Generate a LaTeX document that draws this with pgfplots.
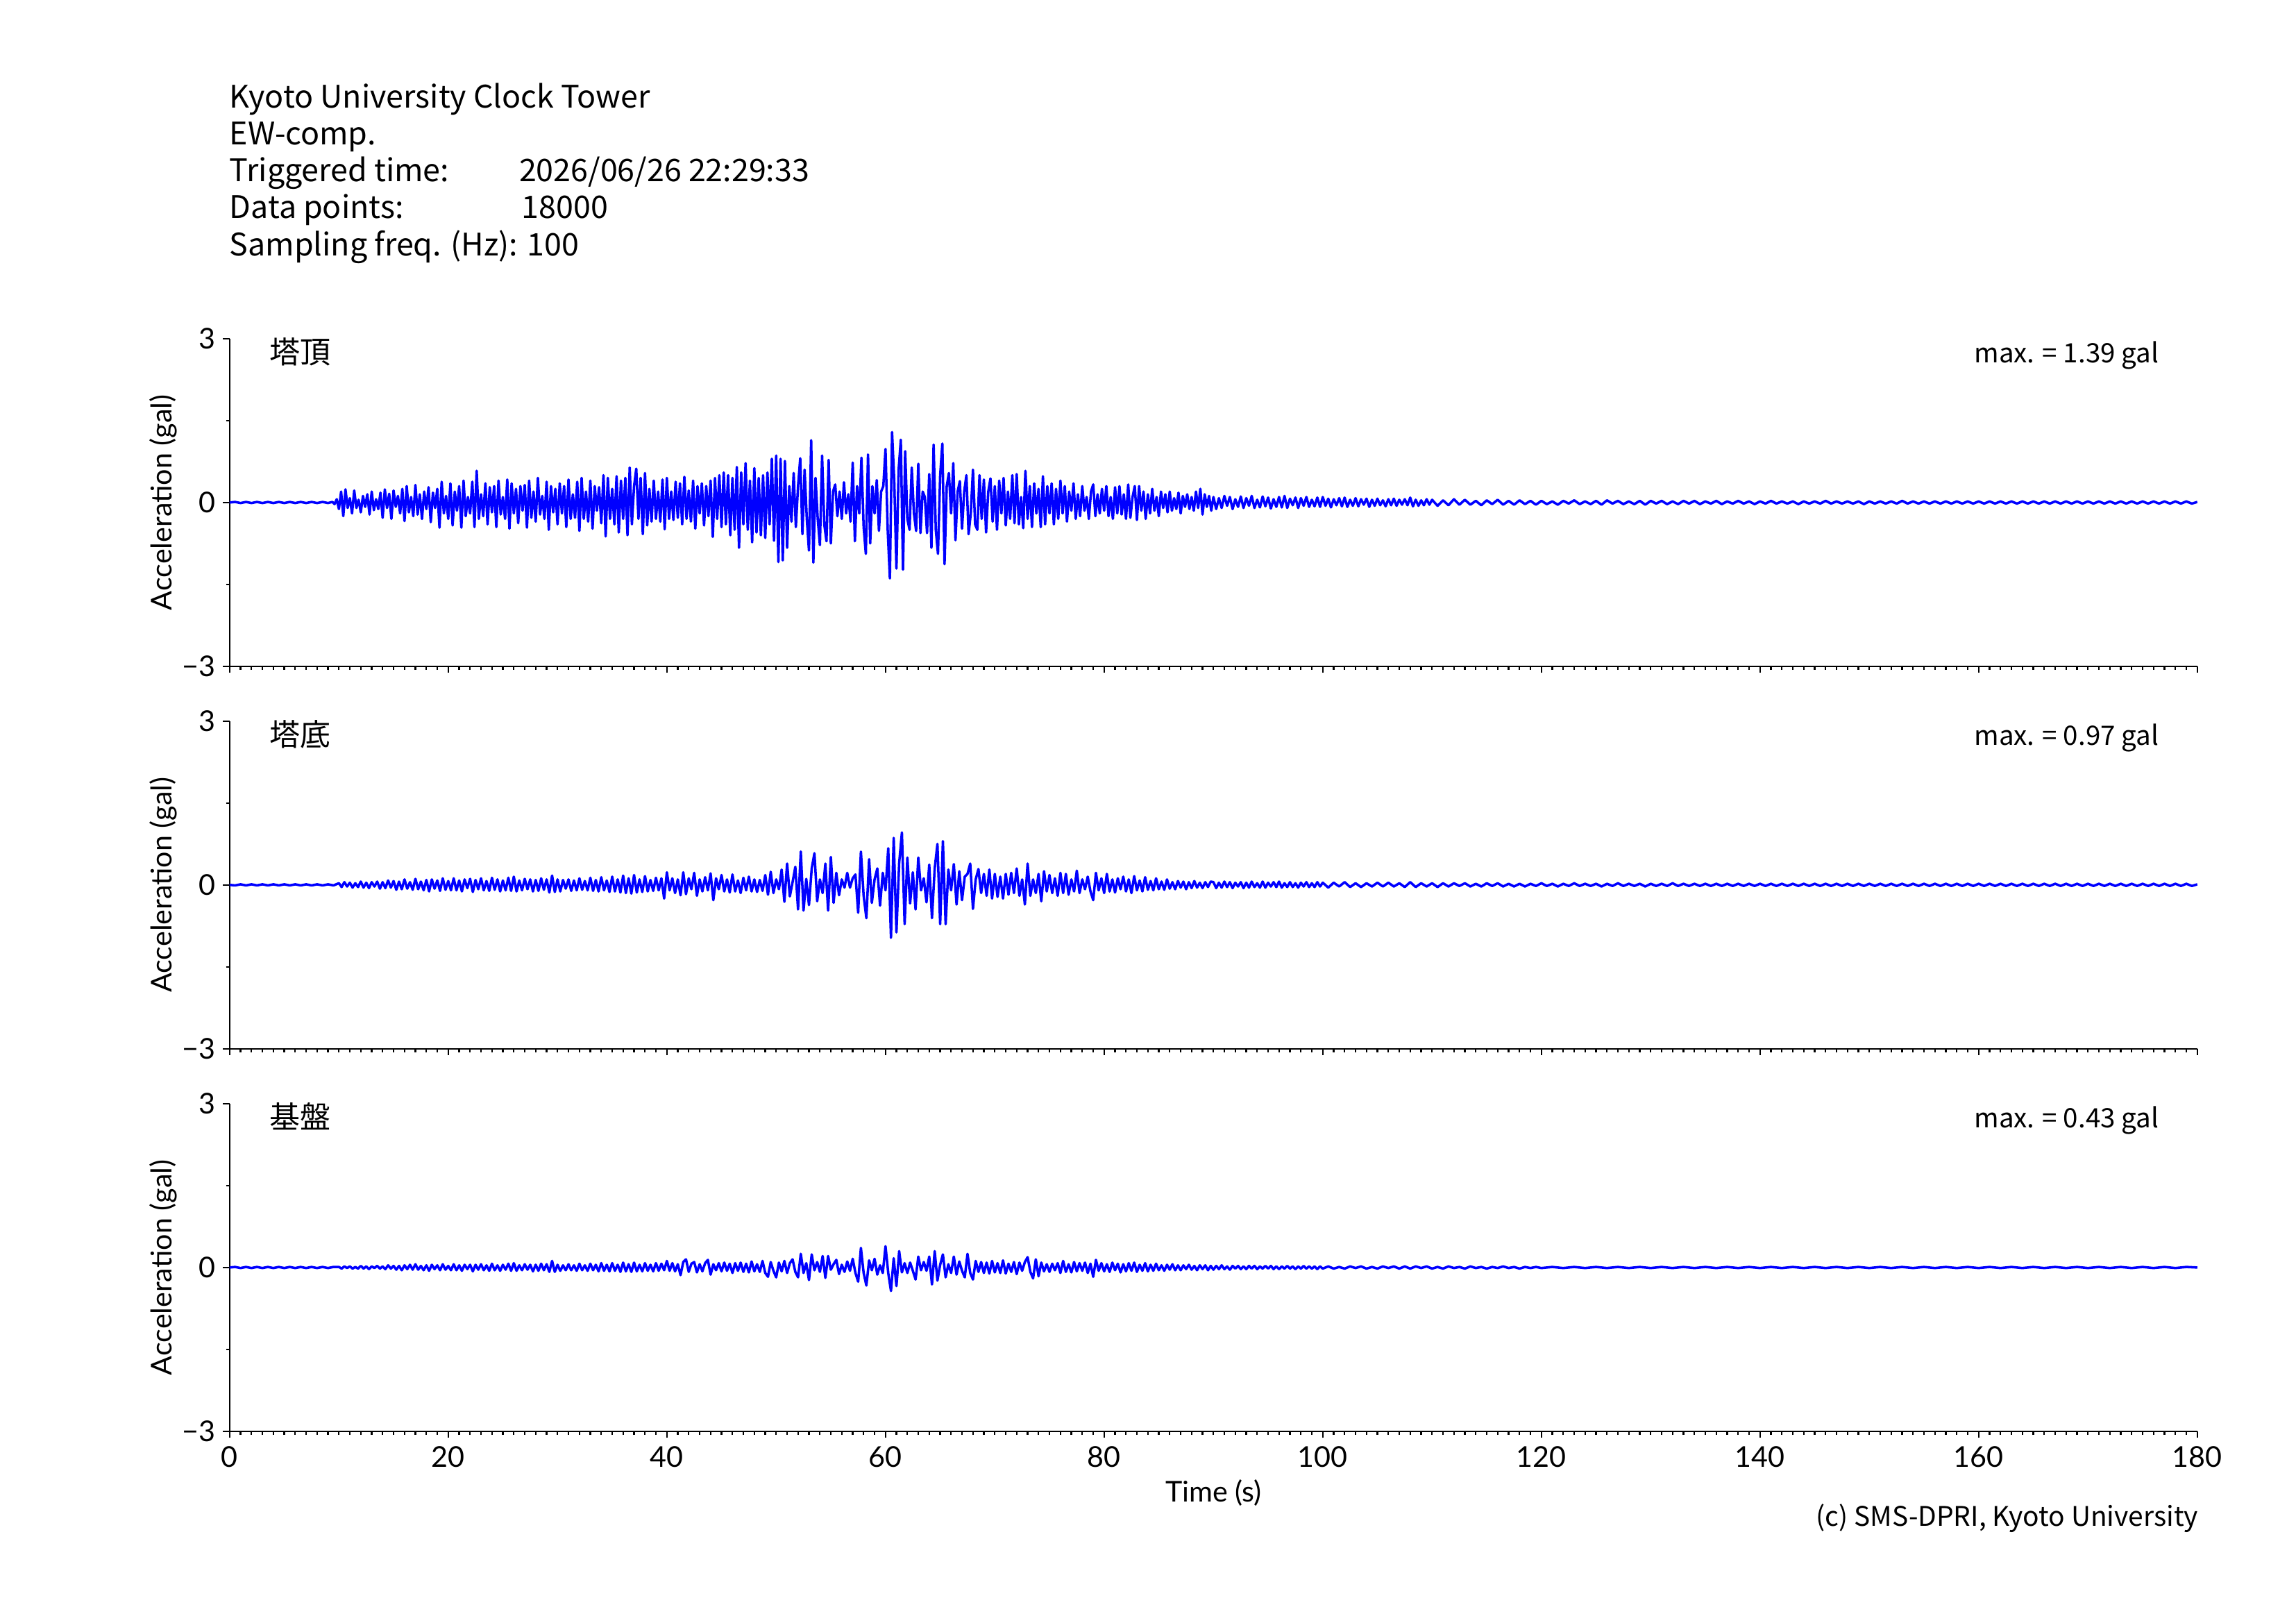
\documentclass[border=0pt]{standalone}
\usepackage{fontspec}
\setmainfont{Noto Sans CJK JP}
\newfontfamily\lato{Lato}
\usepackage{pgfplots}
\pgfplotsset{compat=1.18}
\definecolor{wave}{RGB}{0,0,255}
\pgfplotsset{
  panel/.style={
    scale only axis, width=721.6pt, height=120.1pt,
    anchor=south west,
    xmin=0, xmax=180, ymin=-3, ymax=3,
    axis x line*=bottom, axis y line*=left,
    x axis line style={-}, y axis line style={-},
    axis line style={line width=0.55pt, black},
    xtick={0,20,...,180}, minor x tick num=19,
    ytick={-3,0,3}, yticklabels={−3,0,3}, minor ytick={-1.5,1.5},
    tick align=outside,
    major tick length=2.4pt, minor tick length=1.35pt,
    tick style={black, line width=0.55pt},
    tick label style={font=\lato\fontsize{10.5}{12}\selectfont},
    /pgf/number format/assume math mode=true,
    yticklabel style={anchor=east, inner sep=0pt, xshift=-2.7pt},
    xticklabel style={anchor=north, inner sep=0pt, yshift=-2.9pt},
    ylabel={Acceleration (gal)},
    ylabel style={font=\lato\fontsize{10.5}{12}\selectfont, at={(axis description cs:-0.0338,0.5)}, anchor=center},
  },
  wv/.style={wave, line width=0.9pt, line join=round, mark=none},
}
\begin{document}
\begin{tikzpicture}
\path[use as bounding box] (0,0) rectangle (842pt,595pt);
% ---------------- panel 1 ----------------
\begin{axis}[panel, at={(84.2pt,350.7pt)}, xticklabels={}]
\addplot[wv] coordinates {
(0,0)(0.5,0.01)(1,-0.01)(1.5,0.01)(2,-0.01)(2.5,0.01)(3,-0.01)(3.5,0.01)(4,-0.01)(4.5,0.01)(5,-0.01)(5.5,0.01)(6,-0.01)(6.5,0.01)(7,-0.01)(7.5,0.01)(8,-0.01)(8.5,0.01)(9,-0.01)(9.4,0.01)(9.6,-0.03)(9.8,0.06)
(10,-0.12)(10.2,0.2)(10.4,-0.25)(10.6,0.24)(10.8,-0.1)
(11,0.08)(11.2,-0.2)(11.4,0.22)(11.6,-0.1)(11.8,0.05)
(12,-0.18)(12.2,0.12)(12.4,-0.08)(12.6,0.15)(12.8,-0.22)
(13,0.2)(13.2,-0.14)(13.4,0.06)(13.6,-0.12)(13.8,0.18)
(14,-0.28)(14.2,0.24)(14.4,-0.1)(14.6,0.16)(14.8,-0.3)
(15,0.22)(15.2,-0.08)(15.4,0.12)(15.6,-0.2)(15.8,0.25)
(16,-0.34)(16.2,0.3)(16.4,-0.18)(16.6,0.1)(16.8,-0.25)
(17,0.32)(17.2,-0.22)(17.4,0.15)(17.6,-0.3)(17.8,0.2)
(18,-0.12)(18.2,0.28)(18.4,-0.36)(18.6,0.18)(18.8,-0.1)
(19,0.25)(19.2,-0.46)(19.4,0.38)(19.6,-0.2)(19.8,0.12)
(20,-0.3)(20.2,0.35)(20.4,-0.42)(20.6,0.2)(20.8,-0.15)
(21,0.3)(21.2,-0.46)(21.4,0.4)(21.6,-0.25)(21.8,0.1)
(22,-0.2)(22.2,0.38)(22.4,-0.45)(22.6,0.58)(22.8,-0.3)
(23,0.15)(23.2,-0.25)(23.4,0.35)(23.6,-0.4)(23.8,0.28)
(24,-0.18)(24.2,0.3)(24.4,-0.45)(24.6,0.4)(24.8,-0.22)
(25,0.1)(25.2,-0.3)(25.4,0.42)(25.6,-0.48)(25.8,0.35)
(26,-0.2)(26.2,0.25)(26.4,-0.38)(26.6,0.3)(26.8,-0.15)
(27,0.32)(27.2,-0.46)(27.4,0.4)(27.6,-0.28)(27.8,0.2)
(28,-0.35)(28.2,0.45)(28.4,-0.22)(28.6,0.12)(28.8,-0.3)
(29,0.38)(29.2,-0.5)(29.4,0.3)(29.6,-0.18)(29.8,0.25)
(30,-0.4)(30.2,0.35)(30.4,-0.2)(30.6,0.3)(30.8,-0.45)
(31,0.42)(31.2,-0.3)(31.4,0.15)(31.6,-0.28)(31.8,0.38)
(32,-0.52)(32.2,0.45)(32.4,-0.3)(32.6,0.2)(32.8,-0.35)
(33,0.4)(33.2,-0.48)(33.4,0.3)(33.6,-0.15)(33.8,0.28)
(34,-0.38)(34.2,0.5)(34.4,-0.62)(34.6,0.45)(34.8,-0.3)
(35,0.25)(35.2,-0.4)(35.4,0.48)(35.6,-0.55)(35.8,0.4)
(36,-0.3)(36.2,0.45)(36.4,-0.6)(36.6,0.64)(36.8,-0.4)
(37,0.3)(37.2,0.62)(37.4,-0.3)(37.6,0.45)(37.8,-0.58)
(38,0.54)(38.2,-0.42)(38.4,0.25)(38.6,-0.35)(38.8,0.4)
(39,-0.3)(39.2,0.2)(39.4,-0.35)(39.6,0.42)(39.8,-0.49)
(40,0.45)(40.2,-0.3)(40.4,0.2)(40.6,-0.32)(40.8,0.38)
(41,-0.28)(41.2,0.35)(41.4,-0.4)(41.6,0.47)(41.8,-0.3)
(42,0.22)(42.2,-0.35)(42.4,0.4)(42.6,-0.48)(42.8,0.3)
(43,-0.2)(43.2,0.35)(43.4,-0.42)(43.6,0.3)(43.8,-0.25)
(44,0.4)(44.2,-0.63)(44.4,0.45)(44.6,-0.3)(44.8,0.5)
(45,-0.45)(45.2,0.55)(45.4,-0.4)(45.6,0.5)(45.8,-0.6)
(46,0.45)(46.2,-0.5)(46.4,0.65)(46.6,-0.83)(46.8,0.55)
(47,-0.4)(47.2,0.72)(47.4,-0.5)(47.6,0.4)(47.8,-0.73)
(48,0.63)(48.2,-0.55)(48.4,0.45)(48.6,-0.6)(48.8,0.5)
(49,-0.65)(49.2,0.55)(49.4,-0.4)(49.6,0.8)(49.8,-0.7)
(50,0.86)(50.2,-1.09)(50.4,0.8)(50.6,-1.06)(50.8,0.76)
(51,-0.83)(51.2,0.3)(51.4,-0.35)(51.6,0.54)(51.8,-0.45)
(52,0.3)(52.2,0.81)(52.4,-0.58)(52.6,0.6)(52.8,-0.3)
(53,-0.88)(53.2,1.14)(53.4,-1.1)(53.6,0.45)(53.8,-0.3)
(54,-0.78)(54.2,0.86)(54.4,-0.4)(54.6,-0.71)(54.8,0.78)
(55,-0.75)(55.2,0.2)(55.4,0.33)(55.6,-0.25)(55.8,0.2)
(56,-0.3)(56.2,0.37)(56.4,-0.2)(56.6,0.15)(56.8,-0.35)
(57,0.73)(57.2,-0.71)(57.4,0.3)(57.6,-0.2)(57.8,0.82)
(58,-0.45)(58.2,-0.94)(58.4,0.88)(58.6,-0.75)(58.8,0.3)
(59,-0.2)(59.2,0.41)(59.4,-0.52)(59.6,0.2)(59.8,0.3)
(60,0.98)(60.2,-0.5)(60.4,-1.39)(60.6,1.29)(60.8,0.4)
(61,-1.21)(61.2,0.6)(61.4,1.15)(61.6,-1.23)(61.8,0.94)
(62,-0.3)(62.2,-0.5)(62.4,0.64)(62.6,-0.2)(62.8,-0.52)
(63,0.71)(63.2,-0.56)(63.4,0.2)(63.6,0.1)(63.8,-0.56)
(64,0.52)(64.2,-0.83)(64.4,1.06)(64.6,-0.5)(64.8,-0.94)
(65,0.5)(65.2,1.08)(65.4,-1.13)(65.6,0.3)(65.8,0.54)
(66,-0.2)(66.2,0.72)(66.4,-0.69)(66.6,0.2)(66.8,0.39)
(67,-0.48)(67.2,0.2)(67.4,0.5)(67.6,-0.58)(67.8,-0.2)
(68,0.6)(68.2,-0.4)(68.4,-0.5)(68.6,0.5)(68.8,-0.3)
(69,0.42)(69.2,-0.55)(69.4,0.2)(69.6,0.44)(69.8,-0.35)
(70,0.3)(70.2,-0.5)(70.4,0.4)(70.6,-0.2)(70.8,0.45)
(71,-0.42)(71.2,0.2)(71.4,-0.3)(71.6,0.5)(71.8,-0.38)
(72,0.52)(72.2,-0.4)(72.4,0.1)(72.6,-0.47)(72.8,0.58)
(73,-0.3)(73.2,0.3)(73.4,-0.45)(73.6,0.35)(73.8,-0.2)
(74,0.25)(74.2,-0.45)(74.4,0.48)(74.6,-0.4)(74.8,0.3)
(75,-0.2)(75.2,0.35)(75.4,-0.4)(75.6,0.25)(75.8,-0.3)
(76,0.4)(76.2,-0.2)(76.4,0.3)(76.6,-0.35)(76.8,0.2)
(77,-0.15)(77.2,0.35)(77.4,-0.3)(77.6,0.15)(77.8,-0.25)
(78,0.3)(78.2,-0.15)(78.4,0.1)(78.6,-0.3)(78.8,0.2)
(79,0.33)(79.2,-0.25)(79.4,0.15)(79.6,-0.2)(79.8,0.25)
(80,-0.15)(80.2,0.3)(80.4,-0.25)(80.6,0.1)(80.8,-0.3)
(81,0.28)(81.2,-0.2)(81.4,0.3)(81.6,-0.22)(81.8,0.15)
(82,-0.3)(82.2,0.33)(82.4,-0.28)(82.6,0.1)(82.8,0.3)
(83,-0.32)(83.2,0.3)(83.4,-0.15)(83.6,0.2)(83.8,-0.3)
(84,0.15)(84.2,-0.2)(84.4,0.25)(84.6,-0.15)(84.8,0.1)
(85,-0.25)(85.2,0.2)(85.4,-0.1)(85.6,0.15)(85.8,-0.18)
(86,0.2)(86.2,-0.15)(86.4,0.08)(86.6,-0.12)(86.8,0.18)
(87,-0.2)(87.2,0.12)(87.4,-0.08)(87.6,0.15)(87.8,-0.12)
(88,0.1)(88.2,-0.15)(88.4,0.2)(88.6,-0.1)(88.8,0.25)
(89,-0.22)(89.2,0.15)(89.4,-0.08)(89.6,0.12)(89.8,-0.15)
(90,0.1)(90.25,-0.12)(90.5,0.08)(90.75,-0.1)(91,0.12)(91.25,-0.06)(91.5,0.1)(91.75,-0.12)
(92,0.06)(92.25,-0.08)(92.5,0.11)(92.75,-0.1)(93,0.08)(93.25,-0.06)(93.5,0.12)(93.75,-0.1)
(94,0.05)(94.25,-0.09)(94.5,0.11)(94.75,-0.07)(95,0.09)(95.25,-0.11)(95.5,0.06)(95.75,-0.08)
(96,0.1)(96.25,-0.09)(96.5,0.12)(96.75,-0.1)(97,0.07)(97.25,-0.05)(97.5,0.09)(97.75,-0.1)
(98,0.08)(98.25,-0.06)(98.5,0.1)(98.75,-0.08)(99,0.05)(99.25,-0.07)(99.5,0.09)(99.75,-0.08)
(100,0.1)(100.25,-0.06)(100.5,0.07)(100.75,-0.09)(101,0.06)(101.25,-0.05)(101.5,0.08)(101.75,-0.07)
(102,0.09)(102.25,-0.08)(102.5,0.05)(102.75,-0.06)(103,0.08)(103.25,-0.07)(103.5,0.06)(103.75,-0.04)
(104,0.07)(104.25,-0.08)(104.5,0.05)(104.75,-0.06)(105,0.07)(105.25,-0.05)(105.5,0.04)(105.75,-0.07)
(106,0.06)(106.25,-0.05)(106.5,0.07)(106.75,-0.06)(107,0.05)(107.25,-0.04)(107.5,0.06)(107.75,-0.05)
(108,0.09)(108.25,-0.07)(108.5,0.05)(108.75,-0.06)(109,0.04)(109.25,-0.05)(109.5,0.06)(109.75,-0.04)
(110,0.05)(110.5,-0.06)(111,0.04)(111.5,-0.05)(112,0.06)(112.5,-0.04)(113,0.05)(113.5,-0.04)(114,0.03)(114.5,-0.05)
(115,0.04)(115.5,-0.03)(116,0.05)(116.5,-0.04)(117,0.03)(117.5,-0.04)(118,0.04)(118.5,-0.03)(119,0.03)(119.5,-0.04)
(120,0.03)(120.5,-0.03)(121,0.02)(121.5,-0.04)(122,0.03)(122.5,-0.02)(123,0.04)(123.5,-0.03)(124,0.02)(124.5,-0.03)
(125,0.03)(125.5,-0.04)(126,0.04)(126.5,-0.02)(127,0.03)(127.5,-0.03)(128,0.02)(128.5,-0.03)(129,0.03)(129.5,-0.04)
(130,0.03)(130.5,-0.02)(131,0.03)(131.5,-0.03)(132,0.02)(132.5,-0.03)(133,0.03)(133.5,-0.02)(134,0.03)(134.5,-0.03)
(135,0.02)(135.5,-0.02)(136,0.03)(136.5,-0.03)(137,0.02)(137.5,-0.02)(138,0.03)(138.5,-0.02)(139,0.02)(139.5,-0.03)
(140,0.02)(140.5,-0.02)(141,0.03)(141.5,-0.02)(142,0.02)(142.5,-0.02)(143,0.02)(143.5,-0.03)(144,0.02)(144.5,-0.02)
(145,0.02)(145.5,-0.02)(146,0.03)(146.5,-0.02)(147,0.02)(147.5,-0.02)(148,0.02)(148.5,-0.02)(149,0.02)(149.5,-0.03)
(150,0.02)(150.5,-0.02)(151,0.02)(151.5,-0.02)(152,0.02)(152.5,-0.02)(153,0.03)(153.5,-0.02)(154,0.02)(154.5,-0.02)
(155,0.02)(155.5,-0.02)(156,0.02)(156.5,-0.02)(157,0.02)(157.5,-0.02)(158,0.02)(158.5,-0.02)(159,0.02)(159.5,-0.02)
(160,0.02)(160.5,-0.02)(161,0.02)(161.5,-0.02)(162,0.02)(162.5,-0.02)(163,0.02)(163.5,-0.02)(164,0.02)(164.5,-0.02)
(165,0.02)(165.5,-0.02)(166,0.02)(166.5,-0.02)(167,0.02)(167.5,-0.02)(168,0.02)(168.5,-0.02)(169,0.02)(169.5,-0.02)
(170,0.02)(170.5,-0.02)(171,0.02)(171.5,-0.02)(172,0.02)(172.5,-0.02)(173,0.02)(173.5,-0.02)(174,0.02)(174.5,-0.02)
(175,0.02)(175.5,-0.02)(176,0.02)(176.5,-0.02)(177,0.02)(177.5,-0.02)(178,0.02)(178.5,-0.02)(179,0.02)(179.5,-0.02)(180,0.01)
};
\end{axis}
% ---------------- panel 2 ----------------
\begin{axis}[panel, at={(84.2pt,210.5pt)}, xticklabels={}]
\addplot[wv] coordinates {
(0,0)(0.5,-0.01)(1,0.01)(1.5,-0.01)(2,0.01)(2.5,-0.01)(3,0.01)(3.5,-0.01)(4,0.01)(4.5,-0.01)(5,0.01)(5.5,-0.01)(6,0.01)(6.5,-0.01)(7,0.01)(7.5,-0.01)(8,0.01)(8.5,-0.01)(9,0.01)(9.5,-0.01)
(10,0.03)(10.25,-0.04)(10.5,0.05)(10.75,-0.03)(11,0.04)(11.25,-0.05)(11.5,0.03)(11.75,-0.04)
(12,0.06)(12.25,-0.05)(12.5,0.04)(12.75,-0.06)(13,0.05)(13.25,-0.03)(13.5,0.06)(13.75,-0.07)
(14,0.05)(14.25,-0.06)(14.5,0.08)(14.75,-0.05)(15,0.07)(15.25,-0.09)(15.5,0.06)(15.75,-0.08)
(16,0.1)(16.25,-0.07)(16.5,0.05)(16.75,-0.09)(17,0.11)(17.25,-0.08)(17.5,0.06)(17.75,-0.1)
(18,0.09)(18.25,-0.12)(18.5,0.1)(18.75,-0.07)(19,0.08)(19.25,-0.11)(19.5,0.12)(19.75,-0.09)
(20,0.07)(20.25,-0.1)(20.5,0.12)(20.75,-0.1)(21,0.08)(21.25,-0.12)(21.5,0.1)(21.75,-0.06)
(22,0.11)(22.25,-0.13)(22.5,0.09)(22.75,-0.08)(23,0.12)(23.25,-0.1)(23.5,0.07)(23.75,-0.11)
(24,0.13)(24.25,-0.09)(24.5,0.1)(24.75,-0.12)(25,0.08)(25.25,-0.1)(25.5,0.13)(25.75,-0.11)
(26,0.15)(26.25,-0.12)(26.5,0.08)(26.75,-0.1)(27,0.11)(27.25,-0.08)(27.5,0.1)(27.75,-0.12)
(28,0.09)(28.25,-0.11)(28.5,0.12)(28.75,-0.09)(29,0.1)(29.25,-0.14)(29.5,0.17)(29.75,-0.13)
(30,0.1)(30.25,-0.12)(30.5,0.09)(30.75,-0.07)(31,0.1)(31.25,-0.11)(31.5,0.08)(31.75,-0.1)
(32,0.12)(32.25,-0.09)(32.5,0.07)(32.75,-0.1)(33,0.13)(33.25,-0.11)(33.5,0.09)(33.75,-0.12)
(34,0.14)(34.25,-0.1)(34.5,0.08)(34.75,-0.13)(35,0.15)(35.25,-0.12)(35.5,0.1)(35.75,-0.14)
(36,0.17)(36.25,-0.15)(36.5,0.12)(36.75,-0.16)(37,0.18)(37.25,-0.14)(37.5,0.1)(37.75,-0.13)
(38,0.16)(38.25,-0.12)(38.5,0.09)(38.75,-0.11)(39,0.13)(39.25,-0.1)(39.5,0.12)(39.75,-0.25)
(40,0.23)(40.25,-0.1)(40.5,0.12)(40.75,-0.15)(41,0.1)(41.25,-0.19)(41.5,0.23)(41.75,-0.17)
(42,0.12)(42.25,-0.08)(42.5,0.22)(42.75,-0.2)(43,0.1)(43.25,-0.12)(43.5,0.14)(43.75,-0.1)
(44,0.21)(44.25,-0.28)(44.5,0.12)(44.75,-0.08)(45,0.18)(45.25,-0.12)(45.5,0.1)(45.75,-0.14)
(46,0.19)(46.25,-0.12)(46.5,0.08)(46.75,-0.15)(47,0.13)(47.25,-0.1)(47.5,0.15)(47.75,-0.12)
(48,0.1)(48.25,-0.13)(48.5,0.09)(48.75,-0.11)(49,0.18)(49.25,-0.18)(49.5,0.24)(49.75,-0.15)
(50,0.1)(50.25,-0.08)(50.5,0.28)(50.75,-0.31)(51,0.39)(51.25,-0.21)(51.5,0.05)(51.75,0.33)
(52,-0.45)(52.25,0.61)(52.5,-0.47)(52.75,0.11)(53,-0.37)(53.25,0.3)(53.5,0.58)(53.75,-0.3)
(54,0.1)(54.25,-0.15)(54.5,0.39)(54.75,-0.47)(55,0.51)(55.25,-0.33)(55.5,0.22)(55.75,-0.19)
(56,0.1)(56.25,-0.05)(56.5,0.22)(56.75,-0.05)(57,0.12)(57.25,0.19)(57.5,-0.51)(57.75,0.61)
(58,-0.2)(58.25,-0.61)(58.5,0.47)(58.75,-0.33)(59,0.1)(59.25,0.3)(59.5,-0.38)(59.75,0.22)
(60,-0.1)(60.25,0.67)(60.5,-0.97)(60.75,0.86)(61,-0.87)(61.25,0.4)(61.5,0.96)(61.75,-0.72)
(62,0.5)(62.25,-0.34)(62.5,0.23)(62.75,-0.45)(63,0.5)(63.25,-0.1)(63.5,0.12)(63.75,-0.32)
(64,0.37)(64.25,-0.61)(64.5,0.3)(64.75,0.75)(65,-0.72)(65.25,0.8)(65.5,-0.72)(65.75,0.28)
(66,-0.1)(66.25,0.38)(66.5,-0.36)(66.75,0.25)(67,-0.28)(67.25,0.15)(67.5,0.2)(67.75,0.39)
(68,-0.44)(68.25,0.1)(68.5,0.29)(68.75,-0.15)(69,0.2)(69.25,-0.2)(69.5,0.28)(69.75,-0.25)
(70,0.2)(70.25,-0.22)(70.5,0.15)(70.75,-0.25)(71,0.2)(71.25,-0.18)(71.5,0.22)(71.75,-0.15)
(72,0.3)(72.25,-0.2)(72.5,0.1)(72.75,-0.36)(73,0.39)(73.25,-0.2)(73.5,0.1)(73.75,-0.15)
(74,0.2)(74.25,-0.3)(74.5,0.25)(74.75,-0.12)(75,0.18)(75.25,-0.15)(75.5,0.12)(75.75,-0.2)
(76,0.22)(76.25,-0.15)(76.5,0.2)(76.75,-0.18)(77,0.1)(77.25,-0.12)(77.5,0.26)(77.75,-0.15)
(78,0.1)(78.25,-0.08)(78.5,0.15)(78.75,-0.12)(79,-0.28)(79.25,0.22)(79.5,-0.1)(79.75,0.12)
(80,-0.15)(80.25,0.2)(80.5,-0.12)(80.75,0.1)(81,-0.14)(81.25,0.12)(81.5,-0.08)(81.75,0.15)
(82,-0.12)(82.25,0.1)(82.5,-0.15)(82.75,0.16)(83,-0.1)(83.25,0.08)(83.5,-0.12)(83.75,0.14)
(84,-0.09)(84.25,0.07)(84.5,-0.1)(84.75,0.12)(85,-0.08)(85.25,0.06)(85.5,-0.09)(85.75,0.1)
(86,-0.07)(86.25,0.05)(86.5,-0.08)(86.75,0.07)(87,-0.05)(87.25,0.06)(87.5,-0.08)(87.75,0.05)
(88,-0.06)(88.25,0.07)(88.5,-0.05)(88.75,0.04)(89,-0.06)(89.25,0.05)(89.5,-0.04)(89.75,0.06)
(90,0.05)(90.25,-0.06)(90.5,0.04)(90.75,-0.05)(91,0.06)(91.25,-0.04)(91.5,0.05)(91.75,-0.06)
(92,0.04)(92.25,-0.03)(92.5,0.05)(92.75,-0.06)(93,0.04)(93.25,-0.05)(93.5,0.06)(93.75,-0.04)
(94,0.03)(94.25,-0.05)(94.5,0.06)(94.75,-0.05)(95,0.04)(95.25,-0.03)(95.5,0.05)(95.75,-0.04)
(96,0.06)(96.25,-0.05)(96.5,0.03)(96.75,-0.04)(97,0.05)(97.25,-0.04)(97.5,0.03)(97.75,-0.05)
(98,0.04)(98.25,-0.03)(98.5,0.05)(98.75,-0.04)(99,0.03)(99.25,-0.04)(99.5,0.05)(99.75,-0.03)
(100,0.04)(100.5,-0.05)(101,0.04)(101.5,-0.03)(102,0.05)(102.5,-0.04)(103,0.03)(103.5,-0.04)(104,0.03)(104.5,-0.03)
(105,0.04)(105.5,-0.03)(106,0.04)(106.5,-0.03)(107,0.03)(107.5,-0.04)(108,0.05)(108.5,-0.04)(109,0.03)(109.5,-0.03)
(110,0.03)(110.5,-0.04)(111,0.03)(111.5,-0.03)(112,0.03)(112.5,-0.02)(113,0.03)(113.5,-0.03)(114,0.02)(114.5,-0.03)
(115,0.03)(115.5,-0.02)(116,0.03)(116.5,-0.03)(117,0.02)(117.5,-0.03)(118,0.02)(118.5,-0.03)(119,0.02)(119.5,-0.02)
(120,0.03)(120.5,-0.02)(121,0.02)(121.5,-0.03)(122,0.02)(122.5,-0.02)(123,0.03)(123.5,-0.02)(124,0.02)(124.5,-0.02)
(125,0.02)(125.5,-0.03)(126,0.02)(126.5,-0.02)(127,0.03)(127.5,-0.02)(128,0.02)(128.5,-0.02)(129,0.02)(129.5,-0.03)
(130,0.02)(130.5,-0.02)(131,0.02)(131.5,-0.02)(132,0.03)(132.5,-0.02)(133,0.02)(133.5,-0.02)(134,0.02)(134.5,-0.02)
(135,0.02)(135.5,-0.02)(136,0.02)(136.5,-0.02)(137,0.02)(137.5,-0.02)(138,0.02)(138.5,-0.02)(139,0.02)(139.5,-0.02)
(140,0.02)(140.5,-0.02)(141,0.02)(141.5,-0.02)(142,0.02)(142.5,-0.02)(143,0.02)(143.5,-0.02)(144,0.02)(144.5,-0.02)
(145,0.02)(145.5,-0.02)(146,0.02)(146.5,-0.02)(147,0.02)(147.5,-0.02)(148,0.02)(148.5,-0.02)(149,0.02)(149.5,-0.02)
(150,0.02)(150.5,-0.02)(151,0.02)(151.5,-0.02)(152,0.02)(152.5,-0.02)(153,0.02)(153.5,-0.02)(154,0.02)(154.5,-0.02)
(155,0.02)(155.5,-0.02)(156,0.02)(156.5,-0.02)(157,0.02)(157.5,-0.02)(158,0.02)(158.5,-0.02)(159,0.02)(159.5,-0.02)
(160,0.02)(160.5,-0.02)(161,0.02)(161.5,-0.02)(162,0.02)(162.5,-0.02)(163,0.02)(163.5,-0.02)(164,0.02)(164.5,-0.02)
(165,0.02)(165.5,-0.02)(166,0.02)(166.5,-0.02)(167,0.02)(167.5,-0.02)(168,0.02)(168.5,-0.02)(169,0.02)(169.5,-0.02)
(170,0.02)(170.5,-0.02)(171,0.02)(171.5,-0.02)(172,0.02)(172.5,-0.02)(173,0.02)(173.5,-0.02)(174,0.02)(174.5,-0.02)
(175,0.02)(175.5,-0.02)(176,0.02)(176.5,-0.02)(177,0.02)(177.5,-0.02)(178,0.02)(178.5,-0.02)(179,0.02)(179.5,-0.02)(180,0.01)
};
\end{axis}
% ---------------- panel 3 ----------------
\begin{axis}[panel, at={(84.2pt,70.2pt)},
  xlabel={Time (s)},
  xlabel style={font=\lato\fontsize{10.5}{12}\selectfont, at={(axis description cs:0.5,-0.2157)}, anchor=base}]
\addplot[wv] coordinates {
(0,0)(0.5,0.01)(1,-0.01)(1.5,0.01)(2,-0.01)(2.5,0.01)(3,-0.01)(3.5,0.01)(4,-0.01)(4.5,0.01)(5,-0.01)(5.5,0.01)(6,-0.01)(6.5,0.01)(7,-0.01)(7.5,0.01)(8,-0.01)(8.5,0.01)(9,-0.01)(9.5,0.01)
(10,0.01)(10.25,-0.02)(10.5,0.02)(10.75,-0.01)(11,0.02)(11.25,-0.02)(11.5,0.01)(11.75,-0.02)
(12,0.03)(12.25,-0.02)(12.5,0.02)(12.75,-0.03)(13,0.02)(13.25,-0.01)(13.5,0.03)(13.75,-0.02)
(14,0.02)(14.25,-0.03)(14.5,0.04)(14.75,-0.02)(15,0.03)(15.25,-0.04)(15.5,0.03)(15.75,-0.05)
(16,0.04)(16.25,-0.03)(16.5,0.05)(16.75,-0.04)(17,0.06)(17.25,-0.04)(17.5,0.03)(17.75,-0.05)
(18,0.04)(18.25,-0.06)(18.5,0.05)(18.75,-0.03)(19,0.04)(19.25,-0.05)(19.5,0.06)(19.75,-0.04)
(20,0.03)(20.25,-0.05)(20.5,0.06)(20.75,-0.05)(21,0.04)(21.25,-0.06)(21.5,0.05)(21.75,-0.03)
(22,0.05)(22.25,-0.07)(22.5,0.05)(22.75,-0.04)(23,0.06)(23.25,-0.05)(23.5,0.04)(23.75,-0.06)
(24,0.07)(24.25,-0.05)(24.5,0.04)(24.75,-0.06)(25,0.05)(25.25,-0.04)(25.5,0.07)(25.75,-0.06)
(26,0.08)(26.25,-0.06)(26.5,0.04)(26.75,-0.05)(27,0.06)(27.25,-0.04)(27.5,0.05)(27.75,-0.07)
(28,0.05)(28.25,-0.06)(28.5,0.07)(28.75,-0.05)(29,0.06)(29.25,-0.08)(29.5,0.12)(29.75,-0.08)
(30,0.05)(30.25,-0.06)(30.5,0.04)(30.75,-0.05)(31,0.06)(31.25,-0.05)(31.5,0.04)(31.75,-0.06)
(32,0.07)(32.25,-0.05)(32.5,0.04)(32.75,-0.06)(33,0.07)(33.25,-0.05)(33.5,0.05)(33.75,-0.07)
(34,0.08)(34.25,-0.06)(34.5,0.05)(34.75,-0.07)(35,0.08)(35.25,-0.06)(35.5,0.05)(35.75,-0.08)
(36,0.09)(36.25,-0.07)(36.5,0.06)(36.75,-0.08)(37,0.09)(37.25,-0.07)(37.5,0.05)(37.75,-0.07)
(38,0.08)(38.25,-0.06)(38.5,0.05)(38.75,-0.07)(39,0.08)(39.25,-0.06)(39.5,0.07)(39.75,-0.05)
(40,0.12)(40.25,-0.06)(40.5,0.08)(40.75,-0.07)(41,0.06)(41.25,-0.14)(41.5,0.1)(41.75,0.15)
(42,-0.08)(42.25,0.07)(42.5,0.1)(42.75,-0.09)(43,0.06)(43.25,-0.07)(43.5,0.08)(43.75,0.14)
(44,-0.13)(44.25,0.06)(44.5,-0.05)(44.75,0.08)(45,-0.07)(45.25,0.09)(45.5,-0.06)(45.75,0.07)
(46,-0.1)(46.25,0.08)(46.5,-0.06)(46.75,0.09)(47,-0.08)(47.25,0.07)(47.5,-0.09)(47.75,0.11)
(48,-0.07)(48.25,0.06)(48.5,-0.08)(48.75,0.12)(49,-0.1)(49.25,-0.17)(49.5,0.1)(49.75,-0.06)
(50,-0.18)(50.25,0.09)(50.5,-0.07)(50.75,0.12)(51,-0.1)(51.25,0.08)(51.5,0.15)(51.75,-0.08)
(52,-0.18)(52.25,0.25)(52.5,-0.1)(52.75,0.08)(53,-0.23)(53.25,0.24)(53.5,-0.05)(53.75,0.1)
(54,-0.08)(54.25,0.21)(54.5,-0.19)(54.75,0.21)(55,-0.04)(55.25,0.06)(55.5,0.14)(55.75,-0.12)
(56,0.05)(56.25,-0.08)(56.5,0.11)(56.75,-0.06)(57,0.16)(57.25,-0.1)(57.5,-0.26)(57.75,0.36)
(58,-0.1)(58.25,-0.33)(58.5,0.13)(58.75,-0.05)(59,0.16)(59.25,-0.13)(59.5,0.04)(59.75,-0.1)
(60,0.39)(60.25,-0.1)(60.5,-0.43)(60.75,0.17)(61,-0.34)(61.25,0.3)(61.5,-0.09)(61.75,0.08)
(62,-0.1)(62.25,0.09)(62.5,-0.06)(62.75,-0.22)(63,0.2)(63.25,-0.05)(63.5,0.1)(63.75,-0.06)
(64,0.2)(64.25,-0.31)(64.5,0.3)(64.75,-0.24)(65,0.05)(65.25,0.24)(65.5,-0.18)(65.75,0.06)
(66,-0.1)(66.25,0.2)(66.5,-0.13)(66.75,0.11)(67,-0.06)(67.25,-0.18)(67.5,0.25)(67.75,-0.1)
(68,-0.22)(68.25,0.12)(68.5,-0.08)(68.75,0.1)(69,-0.1)(69.25,0.09)(69.5,-0.11)(69.75,0.12)
(70,-0.09)(70.25,0.08)(70.5,-0.1)(70.75,0.13)(71,-0.11)(71.25,0.07)(71.5,-0.08)(71.75,0.1)
(72,-0.12)(72.25,0.09)(72.5,-0.06)(72.75,0.1)(73,0.19)(73.25,-0.08)(73.5,-0.2)(73.75,0.15)
(74,-0.16)(74.25,0.09)(74.5,-0.07)(74.75,0.06)(75,-0.08)(75.25,0.07)(75.5,-0.05)(75.75,0.08)
(76,-0.1)(76.25,0.12)(76.5,-0.08)(76.75,0.06)(77,-0.09)(77.25,0.1)(77.5,-0.07)(77.75,0.08)
(78,-0.06)(78.25,0.09)(78.5,-0.1)(78.75,0.07)(79,-0.17)(79.25,0.14)(79.5,-0.06)(79.75,0.08)
(80,-0.07)(80.25,0.06)(80.5,-0.08)(80.75,0.09)(81,-0.05)(81.25,0.07)(81.5,-0.09)(81.75,0.06)
(82,-0.07)(82.25,0.08)(82.5,-0.06)(82.75,0.09)(83,-0.08)(83.25,0.05)(83.5,-0.06)(83.75,0.08)
(84,-0.07)(84.25,0.05)(84.5,-0.06)(84.75,0.07)(85,-0.05)(85.25,0.04)(85.5,-0.06)(85.75,0.05)
(86,-0.04)(86.25,0.06)(86.5,-0.05)(86.75,0.04)(87,-0.05)(87.25,0.04)(87.5,-0.03)(87.75,0.05)
(88,-0.04)(88.25,0.03)(88.5,-0.05)(88.75,0.04)(89,-0.03)(89.25,0.04)(89.5,-0.05)(89.75,0.03)
(90,-0.04)(90.25,0.03)(90.5,-0.03)(90.75,0.04)(91,-0.03)(91.25,0.02)(91.5,-0.04)(91.75,0.03)
(92,-0.02)(92.25,0.03)(92.5,-0.03)(92.75,0.02)(93,-0.03)(93.25,0.03)(93.5,-0.02)(93.75,0.03)
(94,-0.03)(94.25,0.02)(94.5,-0.02)(94.75,0.03)(95,-0.02)(95.25,0.03)(95.5,-0.03)(95.75,0.02)
(96,-0.03)(96.25,0.02)(96.5,-0.02)(96.75,0.03)(97,-0.02)(97.25,0.02)(97.5,-0.03)(97.75,0.02)
(98,-0.02)(98.25,0.03)(98.5,-0.02)(98.75,0.02)(99,-0.02)(99.25,0.02)(99.5,-0.03)(99.75,0.02)
(100,-0.02)(100.5,0.02)(101,-0.02)(101.5,0.01)(102,-0.02)(102.5,0.02)(103,-0.01)(103.5,0.02)(104,-0.02)(104.5,0.01)
(105,-0.02)(105.5,0.02)(106,-0.01)(106.5,0.02)(107,-0.02)(107.5,0.02)(108,-0.02)(108.5,0.02)(109,-0.01)(109.5,0.02)
(110,-0.02)(110.5,0.01)(111,-0.02)(111.5,0.02)(112,-0.01)(112.5,0.01)(113,-0.02)(113.5,0.02)(114,-0.01)(114.5,0.01)
(115,-0.02)(115.5,0.01)(116,-0.01)(116.5,0.02)(117,-0.01)(117.5,0.01)(118,-0.02)(118.5,0.01)(119,-0.01)(119.5,0.01)
(120,-0.01)(121,0.01)(122,-0.01)(123,0.01)(124,-0.01)(125,0.01)(126,-0.01)(127,0.01)(128,-0.01)(129,0.01)
(130,-0.01)(131,0.01)(132,-0.01)(133,0.01)(134,-0.01)(135,0.01)(136,-0.01)(137,0.01)(138,-0.01)(139,0.01)
(140,-0.01)(141,0.01)(142,-0.01)(143,0.01)(144,-0.01)(145,0.01)(146,-0.01)(147,0.01)(148,-0.01)(149,0.01)
(150,-0.01)(151,0.01)(152,-0.01)(153,0.01)(154,-0.01)(155,0.01)(156,-0.01)(157,0.01)(158,-0.01)(159,0.01)
(160,-0.01)(161,0.01)(162,-0.01)(163,0.01)(164,-0.01)(165,0.01)(166,-0.01)(167,0.01)(168,-0.01)(169,0.01)
(170,-0.01)(171,0.01)(172,-0.01)(173,0.01)(174,-0.01)(175,0.01)(176,-0.01)(177,0.01)(178,-0.01)(179,0.01)(180,0)
};
\end{axis}
% ---------------- texts ----------------
\begin{scope}[every node/.style={inner sep=0pt, font=\fontsize{11.4}{13.5}\selectfont}]
\node[anchor=base west] at (84pt,555.5pt) {Kyoto University Clock Tower};
\node[anchor=base west] at (84pt,541.9pt) {EW-comp.};
\node[anchor=base west] at (84pt,528.5pt) {Triggered time:};
\node[anchor=base west] at (190.2pt,528.5pt) {2026/06/26 22:29:33};
\node[anchor=base west] at (84pt,515.0pt) {Data points:};
\node[anchor=base west] at (191.2pt,515.0pt) {18000};
\node[anchor=base west] at (84pt,501.3pt) {Sampling freq. (Hz): 100};
\end{scope}
\begin{scope}[every node/.style={inner sep=0pt, font=\fontsize{11.2}{13}\selectfont}]
\node[anchor=base west] at (98.7pt,461.7pt) {塔頂};
\node[anchor=base west] at (98.7pt,321.4pt) {塔底};
\node[anchor=base west] at (98.7pt,181.2pt) {基盤};
\end{scope}
\begin{scope}[every node/.style={inner sep=0pt, font=\fontsize{9.8}{12}\selectfont}]
\node[anchor=base east] at (791.8pt,462.1pt) {max. = 1.39 gal};
\node[anchor=base east] at (791.8pt,321.8pt) {max. = 0.97 gal};
\node[anchor=base east] at (791.8pt,181.6pt) {max. = 0.43 gal};
\end{scope}
\node[inner sep=0pt, font=\fontsize{9.9}{12}\selectfont, anchor=base east] at (806.3pt,35.3pt) {(c) SMS-DPRI, Kyoto University};
\end{tikzpicture}
\end{document}
